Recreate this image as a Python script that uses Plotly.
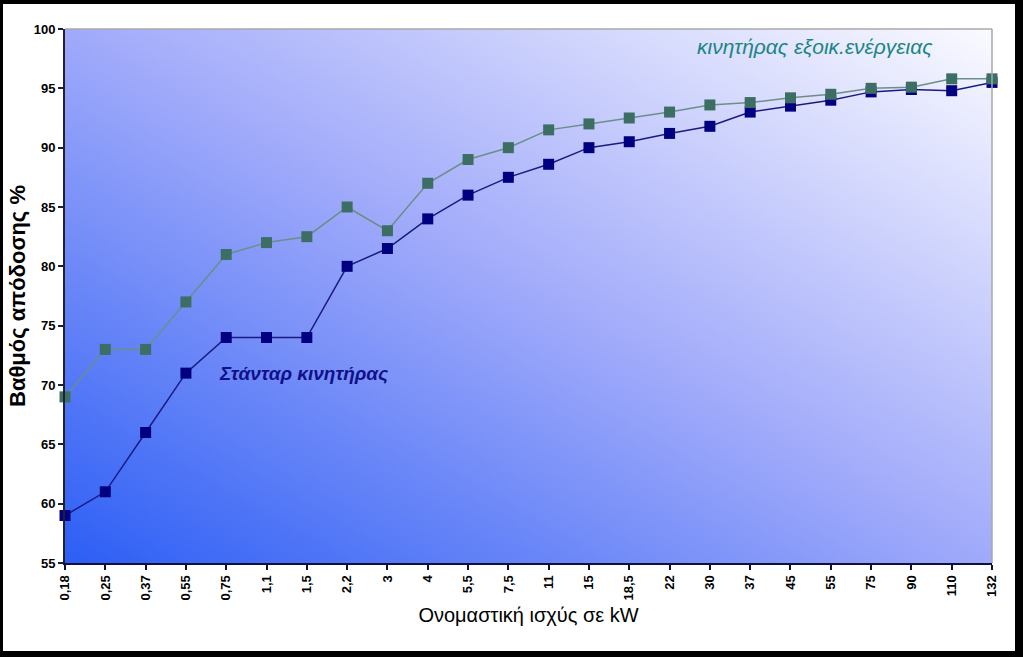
import base64
import struct
import zlib

import plotly.graph_objects as go

# ---------------- data ----------------
categories = ["0,18", "0,25", "0,37", "0,55", "0,75", "1,1", "1,5", "2,2", "3", "4",
              "5,5", "7,5", "11", "15", "18,5", "22", "30", "37", "45", "55",
              "75", "90", "110", "132"]
standard_eff = [59, 61, 66, 71, 74, 74, 74, 80, 81.5, 84,
                86, 87.5, 88.6, 90, 90.5, 91.2, 91.8, 93, 93.5, 94,
                94.7, 94.9, 94.8, 95.5]
efficient_eff = [69, 73, 73, 77, 81, 82, 82.5, 85, 83, 87,
                 89, 90, 91.5, 92, 92.5, 93, 93.6, 93.8, 94.2, 94.5,
                 95, 95.1, 95.8, 95.8]
y_ticks = [55, 60, 65, 70, 75, 80, 85, 90, 95, 100]

# ---------------- gradient background image ----------------
def gradient_png(w, h):
    c0 = (45, 95, 245)
    c1 = (160, 170, 250)
    c2 = (250, 250, 255)
    rows = []
    for j in range(h):
        v = 1 - j / (h - 1)  # 0 bottom, 1 top
        row = bytearray([0])
        for i in range(w):
            u = i / (w - 1)
            t = (u + v) / 2
            if t < 0.5:
                s = t / 0.5
                c = [round(c0[k] + (c1[k] - c0[k]) * s) for k in range(3)]
            else:
                s = (t - 0.5) / 0.5
                c = [round(c1[k] + (c2[k] - c1[k]) * s) for k in range(3)]
            row.extend(c)
        rows.append(bytes(row))
    raw = b"".join(rows)

    def chunk(tag, data):
        return (struct.pack(">I", len(data)) + tag + data +
                struct.pack(">I", zlib.crc32(tag + data) & 0xffffffff))

    png = b"\x89PNG\r\n\x1a\n"
    png += chunk(b"IHDR", struct.pack(">IIBBBBB", w, h, 8, 2, 0, 0, 0))
    png += chunk(b"IDAT", zlib.compress(raw, 9))
    png += chunk(b"IEND", b"")
    return "data:image/png;base64," + base64.b64encode(png).decode()


bg_src = gradient_png(320, 190)

# ---------------- figure ----------------
W, H = 1023, 657
L, R, T, B = 65, 31, 29, 94
PW, PH = W - L - R, H - T - B


def px(x):
    return (x - L) / PW


def py(y):
    return (H - B - y) / PH


fig = go.Figure()

fig.add_trace(go.Scatter(
    x=categories, y=standard_eff, mode="lines+markers",
    line=dict(color="#1a1a80", width=1.5),
    marker=dict(symbol="square", size=11, color="#000080"),
    cliponaxis=False, showlegend=False, name="Στάνταρ κινητήρας"))

fig.add_trace(go.Scatter(
    x=categories, y=efficient_eff, mode="lines+markers",
    line=dict(color="#6b8f88", width=1.5),
    marker=dict(symbol="square", size=11, color="#3d6e64"),
    cliponaxis=False, showlegend=False, name="κινητήρας εξοικ.ενέργειας"))

fig.add_layout_image(dict(
    source=bg_src, xref="paper", yref="paper", x=0, y=1,
    sizex=1, sizey=1, xanchor="left", yanchor="top",
    sizing="stretch", layer="below"))

shapes = []
# plot area grey top / right border
shapes.append(dict(type="line", xref="paper", yref="paper", x0=0, x1=1, y0=1, y1=1,
                   line=dict(color="#a8a8a8", width=1.5), layer="above"))
shapes.append(dict(type="line", xref="paper", yref="paper", x0=1, x1=1, y0=0, y1=1,
                   line=dict(color="#a8a8a8", width=1.5), layer="above"))
# outer black frame
for (x0, y0, x1, y1) in [(0, 0, 1023, 4), (0, 651, 1023, 657), (0, 0, 3, 657), (1015, 0, 1023, 657)]:
    shapes.append(dict(type="rect", xref="paper", yref="paper",
                       x0=px(x0), x1=px(x1), y0=py(y1), y1=py(y0),
                       fillcolor="black", line=dict(width=0), layer="above"))

fig.update_layout(
    width=W, height=H,
    margin=dict(l=L, r=R, t=T, b=B),
    paper_bgcolor="white",
    plot_bgcolor="rgba(0,0,0,0)",
    shapes=shapes,
    font=dict(family="Liberation Sans, Arial, sans-serif", color="black"),
    xaxis=dict(
        type="category", range=[0, 23],
        tickangle=-90,
        tickfont=dict(size=13, family="Liberation Sans, Arial", color="black", weight="bold"),
        ticks="outside", ticklen=5, tickwidth=1.5, tickcolor="#10103a",
        showline=True, linecolor="#10103a", linewidth=2,
        showgrid=False, zeroline=False,
        title=dict(text="Ονομαστική ισχύς σε kW",
                   font=dict(size=20, family="Liberation Sans, Arial", color="black"),
                   standoff=8),
    ),
    yaxis=dict(
        range=[55, 100], tickvals=y_ticks,
        tickfont=dict(size=13, family="Liberation Sans, Arial", color="black", weight="bold"),
        ticks="outside", ticklen=5, tickwidth=1.5, tickcolor="#202030",
        showline=True, linecolor="#202030", linewidth=2,
        showgrid=False, zeroline=False,
        title=dict(text="Βαθμός απόδοσης %",
                   font=dict(size=22, family="Liberation Sans, Arial", color="black", weight="bold"),
                   standoff=2),
    ),
    annotations=[
        dict(text="<i>κινητήρας εξοικ.ενέργειας</i>", xref="paper", yref="paper",
             x=px(815), y=py(47), showarrow=False, xanchor="center", yanchor="middle",
             font=dict(size=21, color="#1b8585", family="Liberation Sans, Arial")),
        dict(text="<i><b>Στάνταρ κινητήρας</b></i>", xref="paper", yref="paper",
             x=px(304), y=py(373), showarrow=False, xanchor="center", yanchor="middle",
             font=dict(size=19, color="#10108a", family="Liberation Sans, Arial")),
    ],
)

fig.write_html("out.html", config={"displayModeBar": False},
               post_script="document.body.style.margin='0';document.body.style.overflow='hidden';")
